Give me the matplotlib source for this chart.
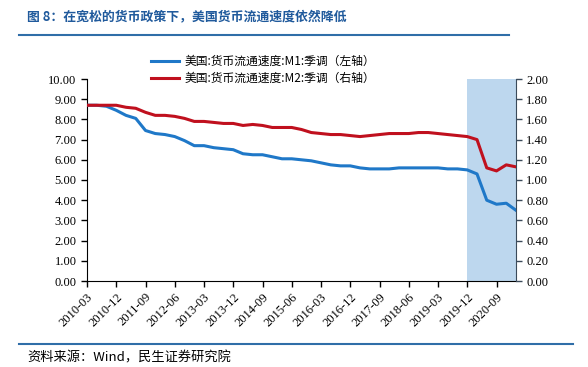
import matplotlib.pyplot as plt
from matplotlib.lines import Line2D

plt.rcParams['font.family'] = ['Liberation Serif', 'Noto Sans CJK SC', 'DejaVu Sans']

# quarterly, 2010-03 .. 2021-03
quarters = [f"{y}-{m:02d}" for y in range(2010, 2022) for m in (3, 6, 9, 12)][:45]

m1 = [8.70, 8.70, 8.65, 8.45, 8.20, 8.05, 7.45, 7.30, 7.25, 7.15, 6.95, 6.70,
      6.70, 6.60, 6.55, 6.50, 6.30, 6.25, 6.25, 6.15, 6.05, 6.05, 6.00, 5.95,
      5.85, 5.75, 5.70, 5.70, 5.60, 5.55, 5.55, 5.55, 5.60, 5.60, 5.60, 5.60,
      5.60, 5.55, 5.55, 5.50, 5.30, 4.00, 3.80, 3.85, 3.50]

m2 = [1.740, 1.740, 1.740, 1.740, 1.720, 1.710, 1.670, 1.640, 1.640, 1.630, 1.610, 1.580,
      1.580, 1.570, 1.560, 1.560, 1.540, 1.550, 1.540, 1.520, 1.520, 1.520, 1.500, 1.470,
      1.460, 1.450, 1.450, 1.440, 1.430, 1.440, 1.450, 1.460, 1.460, 1.460, 1.470, 1.470,
      1.460, 1.450, 1.440, 1.430, 1.400, 1.120, 1.090, 1.150, 1.130]

labels = ["美国:货币流通速度:M1:季调（左轴）", "美国:货币流通速度:M2:季调（右轴）"]
title = "图 8：在宽松的货币政策下，美国货币流通速度依然降低"
source = "资料来源：Wind，民生证券研究院"

blue = '#1f78c8'
red = '#c0101e'

fig = plt.figure(figsize=(5.88, 3.67), dpi=100)
ax = fig.add_axes([87 / 588, 1 - 281 / 367, 429 / 588, 202 / 367])
ax2 = ax.twinx()

x = list(range(len(quarters)))
ax.axvspan(39, 44, color='#bdd7ee', lw=0, zorder=0)
ax.plot(x, m1, color=blue, lw=2.2, solid_joinstyle='round', zorder=3)
ax2.plot(x, m2, color=red, lw=2.2, solid_joinstyle='round', zorder=3)

ax.set_xlim(0, 44)
ax.set_ylim(0, 10)
ax2.set_ylim(0, 2)
ax.set_yticks([i for i in range(11)])
ax.set_yticklabels([f"{i:.2f}" for i in range(11)])
ax2.set_yticks([i * 0.2 for i in range(11)])
ax2.set_yticklabels([f"{i * 0.2:.2f}" for i in range(11)])
ax.set_xticks(x[::3])
ax.set_xticklabels(quarters[::3], rotation=45, ha='right', rotation_mode='anchor')

for a in (ax, ax2):
    a.spines['top'].set_visible(False)
ax.spines['right'].set_visible(False)
ax2.spines['left'].set_visible(False)
ax2.spines['bottom'].set_visible(False)
ax2.spines['right'].set_color('#3b4a5a')
ax.tick_params(axis='both', labelsize=9, length=4, direction='out', width=1)
ax.tick_params(axis='x', pad=3)
ax2.tick_params(axis='y', labelsize=9, length=4, direction='out', width=1, colors='#3b4a5a',
                labelcolor='black')

handles = [Line2D([], [], color=blue, lw=2.2), Line2D([], [], color=red, lw=2.2)]
fig.legend(handles, labels, loc='center', bbox_to_anchor=(263 / 588, 1 - 70 / 367),
           frameon=False, handlelength=2.4, labelspacing=0.35,
           handletextpad=0.4, prop={'family': ['Noto Sans CJK SC'], 'size': 8.5})

fig.text(27 / 588, 1 - 17 / 367, title, fontsize=9.3, fontweight='bold', color='#205a9c',
         va='center', family=['Noto Sans CJK SC'])
fig.add_artist(Line2D([19 / 588, 509 / 588], [1 - 35 / 367] * 2, color='#2f6ea8', lw=1.5))
fig.add_artist(Line2D([19 / 588, 573 / 588], [1 - 344 / 367] * 2, color='#2f6ea8', lw=1.5))
fig.text(27 / 588, 1 - 358 / 367, source, fontsize=9.5, va='center',
         family=['Noto Sans CJK SC'])

fig.savefig('out.png', dpi=100)
